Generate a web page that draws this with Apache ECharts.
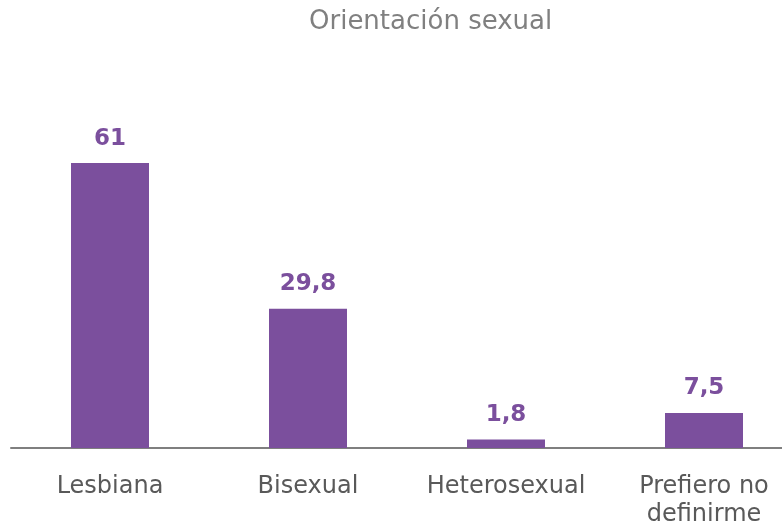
<!DOCTYPE html>
<html>
<head>
<meta charset="utf-8">
<script src="https://cdn.jsdelivr.net/npm/echarts@6/dist/echarts.min.js"></script>
<style>
  html, body { margin: 0; padding: 0; background: #fff; }
  #chart { width: 782px; height: 525px; }
</style>
</head>
<body>
<div id="chart"></div>
<script>
// datos
var categories = ['Lesbiana', 'Bisexual', 'Heterosexual', 'Prefiero no\ndefinirme']
var percentages = [61, 29.8, 1.8, 7.5]

var chart = echarts.init(document.getElementById('chart'))

chart.setOption({
  title: {
    text: 'Orientación sexual',
    left: 304,
    top: 4,
    textStyle: {
      color: '#808080',
      fontFamily: 'DejaVu Sans',
      fontSize: 26,
      fontWeight: 'normal'
    }
  },
  grid: {
    left: 11,
    top: 121,
    width: 792,
    height: 327,
    outerBoundsMode: 'none',
    containLabel: false
  },
  xAxis: {
    type: 'category',
    data: categories,
    axisLine: {
      lineStyle: {
        color: '#7f7f7f',
        width: 2
      }
    },
    axisTick: {
      show: false
    },
    axisLabel: {
      interval: 0,
      hideOverlap: false,
      color: '#595959',
      fontFamily: 'DejaVu Sans',
      fontSize: 24,
      lineHeight: 28,
      margin: 25
    }
  },
  yAxis: {
    type: 'value',
    min: 0,
    max: 70,
    show: false,
    splitLine: {
      show: false
    }
  },
  series: [{
    type: 'bar',
    data: percentages,
    barWidth: 78,
    itemStyle: {
      color: '#7b4f9d'
    },
    label: {
      show: true,
      position: 'top',
      distance: 13,
      color: '#7b4f9d',
      fontFamily: 'DejaVu Sans',
      fontWeight: 'bold',
      fontSize: 23,
      formatter: function (p) {
        return String(p.value).replace('.', ',')
      }
    }
  }]
})
</script>
</body>
</html>
